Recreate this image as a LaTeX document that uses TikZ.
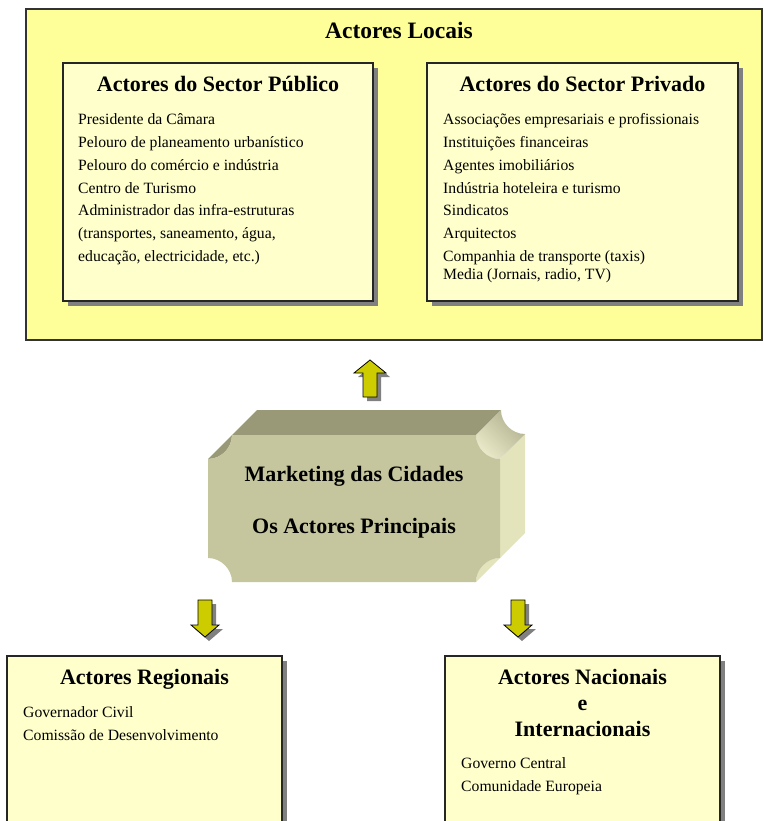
\documentclass[tikz,border=0pt]{standalone}
\usepackage{fontspec}
\setmainfont{Liberation Serif}
\usepackage{tikz}
\usetikzlibrary{shadows}
\definecolor{LocalYellow}{RGB}{255, 255, 153}
\definecolor{BoxYellow}{RGB}{255, 255, 204}
\definecolor{ShadowGray}{RGB}{128, 128, 128}
\definecolor{ArrowYellow}{RGB}{204, 204, 0}
\definecolor{FaceFront}{RGB}{197, 197, 158}
\definecolor{FaceTop}{RGB}{153, 153, 120}
\definecolor{FaceSide}{RGB}{228, 228, 188}

\begin{document}
\begin{tikzpicture}[
        x=1pt, y=-1pt,
        exterior/.style={draw=black!80, line width=1.1pt, fill=LocalYellow},
        caixa/.style={draw=black!85, line width=1.1pt, fill=BoxYellow, minimum height=238pt,
            drop shadow={shadow xshift=5pt, shadow yshift=-5pt, fill=ShadowGray, opacity=1}},
        titulo/.style={font=\fontsize{22}{26}\selectfont\bfseries, inner sep=0pt, anchor=base},
        lista/.style={font=\fontsize{15.7}{22.8}\selectfont, align=left, inner sep=0pt, anchor=north west},
        seta/.style={draw=black, line width=0.8pt, fill=ArrowYellow,
            drop shadow={shadow xshift=4pt, shadow yshift=-4pt, fill=ShadowGray, opacity=1}}
    ]
    \useasboundingbox (0,0) rectangle (763,821);

    % Actores locais
    \node[exterior, minimum width=736pt, minimum height=331pt] (locais) at (394,174.5) {};
    \node[titulo, font=\fontsize{23.5}{28}\selectfont\bfseries] (tlocais) at ([xshift=5pt, yshift=-30.5pt]locais.north) {Actores Locais};

    % Sector publico
    \node[caixa, minimum width=310pt] (publico) at (218,182) {};
    \node[titulo] (tpublico) at ([yshift=-29.5pt]publico.north) {Actores do Sector Público};
    \node[lista] (lpublico) at (78,108.5) {\strut Presidente da Câmara\\
        Pelouro de planeamento urbanístico\\
        Pelouro do comércio e indústria\\
        Centro de Turismo\\
        Administrador das infra-estruturas\\
        (transportes, saneamento, água,\\
        educação, electricidade, etc.)};

    % Sector privado
    \node[caixa, minimum width=311pt] (privado) at (582.5,182) {};
    \node[titulo] (tprivado) at ([yshift=-29.5pt]privado.north) {Actores do Sector Privado};
    \node[lista] (lprivado) at (443,108.5) {\strut Associações empresariais e profissionais\\
        Instituições financeiras\\
        Agentes imobiliários\\
        Indústria hoteleira e turismo\\
        Sindicatos\\
        Arquitectos\\
        Companhia de transporte (taxis)\\[-4.8pt]
        Media (Jornais, radio, TV)};

    % Bloco central
    \fill[FaceTop] (208,459) -- (257,410) -- (501,410) -- (476,435) -- (232,435)
        .. controls (232,448) and (221,459) .. (208,459) -- cycle;
    \fill[FaceSide] (500,459) -- (525,434) -- (525,533) -- (476,582)
        .. controls (476,569) and (487,558) .. (500,558) -- cycle;
    \shade[left color=FaceSide!80!white, right color=FaceTop!70!FaceSide, shading angle=135]
        (476,435) -- (501,410) .. controls (501,423) and (512,434) .. (525,434)
        -- (500,459) .. controls (487,459) and (476,448) .. (476,435) -- cycle;
    \fill[FaceFront] (232,435) -- (476,435) .. controls (476,448) and (487,459) .. (500,459)
        -- (500,558) .. controls (487,558) and (476,569) .. (476,582)
        -- (232,582) .. controls (232,569) and (221,558) .. (208,558)
        -- (208,459) .. controls (221,459) and (232,448) .. (232,435) -- cycle;
    \node[titulo] (marketing) at (354,481) {Marketing das Cidades};
    \node[titulo] (principais) at (354,533) {Os Actores Principais};

    % Setas
    \draw[seta] (370,360) -- ++(16,13) -- ++(-9,0) -- ++(0,24) -- ++(-14,0) -- ++(0,-24) -- ++(-9,0) -- cycle;
    \draw[seta] (205,637) -- ++(14,-12) -- ++(-7,0) -- ++(0,-25) -- ++(-14,0) -- ++(0,25) -- ++(-7,0) -- cycle;
    \draw[seta] (518,637) -- ++(14,-12) -- ++(-7,0) -- ++(0,-25) -- ++(-14,0) -- ++(0,25) -- ++(-7,0) -- cycle;

    % Actores regionais
    \node[caixa, minimum width=275pt, minimum height=166pt] (regionais) at (144.5,739) {};
    \node[titulo] (tregionais) at ([yshift=-28.7pt]regionais.north) {Actores Regionais};
    \node[lista] (lregionais) at (23,701.5) {\strut Governador Civil\\
        Comissão de Desenvolvimento};

    % Actores nacionais e internacionais
    \node[caixa, minimum width=275pt, minimum height=166pt] (nacionais) at (582.5,739) {};
    \node[titulo, align=center, anchor=north] (tnacionais) at ([yshift=-10.5pt]nacionais.north) {\strut Actores Nacionais\\ e\\ Internacionais};
    \node[lista] (lnacionais) at (461,752.5) {\strut Governo Central\\
        Comunidade Europeia};

\end{tikzpicture}
\end{document}
